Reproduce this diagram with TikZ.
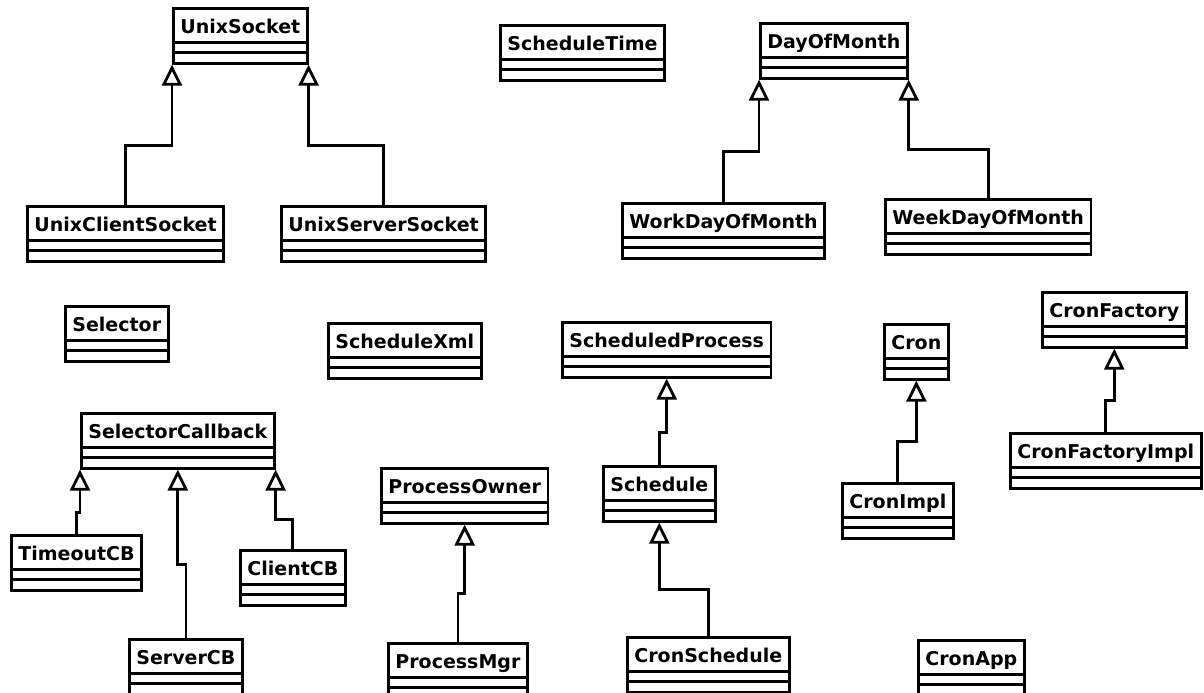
\documentclass[tikz,border=0pt]{standalone}
\usepackage{fontspec}
\setmainfont{DejaVu Sans}
\usetikzlibrary{arrows.meta,calc}

\begin{document}
\begin{tikzpicture}[
    x=0.5pt, y=-0.5pt,
    classe/.style={draw, line width=1.4pt, inner xsep=3.5pt, inner ysep=1pt,
      text height=11.4pt, text depth=14pt,
      font=\fontsize{9.5}{11}\selectfont\bfseries, anchor=north west,
      path picture={\draw[line width=1.4pt]
        ([yshift=10.5pt]path picture bounding box.south west) -- ([yshift=10.5pt]path picture bounding box.south east)
        ([yshift=5.25pt]path picture bounding box.south west) -- ([yshift=5.25pt]path picture bounding box.south east);}},
    heritage/.style={draw, line width=1.4pt, -{Triangle[open,length=10.5pt,width=10pt]},
      to path={|- ($(\tikztostart)!.5!(\tikztotarget)+(0,10.5)$) -| (\tikztotarget)}},
  ]
  \useasboundingbox (0,0) rectangle (1204,692);

  % les classes
  \node[classe] (us)    at (172,7)   {UnixSocket};
  \node[classe] (ucs)   at (26,205)  {UnixClientSocket};
  \node[classe] (uss)   at (280,205) {UnixServerSocket};
  \node[classe] (st)    at (499,24)  {ScheduleTime};
  \node[classe] (dom)   at (759,22)  {DayOfMonth};
  \node[classe] (wdom)  at (621,202) {WorkDayOfMonth};
  \node[classe] (wkdom) at (884,198) {WeekDayOfMonth};
  \node[classe] (sel)   at (64,305)  {Selector};
  \node[classe] (sx)    at (327,322) {ScheduleXml};
  \node[classe] (sp)    at (561,321) {ScheduledProcess};
  \node[classe] (cron)  at (883,323) {Cron};
  \node[classe] (cf)    at (1041,291) {CronFactory};
  \node[classe] (scb)   at (80,412)  {SelectorCallback};
  \node[classe] (tcb)   at (10,534)  {TimeoutCB};
  \node[classe] (svcb)  at (128,638) {ServerCB};
  \node[classe] (ccb)   at (239,549) {ClientCB};
  \node[classe] (po)    at (380,467) {ProcessOwner};
  \node[classe] (pm)    at (387,642) {ProcessMgr};
  \node[classe] (sch)   at (602,465) {Schedule};
  \node[classe] (cs)    at (626,636) {CronSchedule};
  \node[classe] (ci)    at (841,482) {CronImpl};
  \node[classe] (cfi)   at (1009,432) {CronFactoryImpl};
  \node[classe] (app)   at (917,639) {CronApp};

  % les heritages
  \draw[heritage] (ucs.north) to (us.south west);
  \draw[heritage] (uss.north) to (us.south east);
  \draw[heritage] (wdom.north) to (dom.south west);
  \draw[heritage] (wkdom.north) to (dom.south east);
  \draw[heritage] (tcb.north) to (scb.south west);
  \draw[heritage] (svcb.north) to (scb.south);
  \draw[heritage] (ccb.north) to (scb.south east);
  \draw[heritage] (pm.north) to (po.south);
  \draw[heritage] (sch.north) to (sp.south);
  \draw[heritage] (cs.north) to (sch.south);
  \draw[heritage] (ci.north) to (cron.south);
  \draw[heritage] (cfi.north) to (cf.south);
\end{tikzpicture}
\end{document}
